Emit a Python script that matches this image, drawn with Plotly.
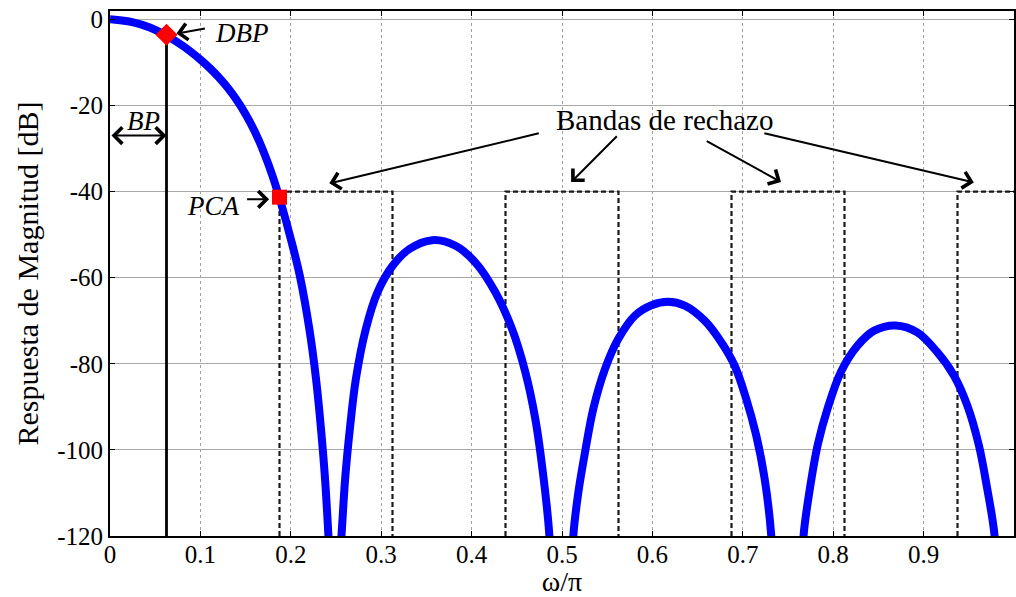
import plotly.graph_objects as go

# Magnitude response (omega/pi, dB); None separates segments that dip below -120 dB
w_resp = [0.0, 0.0257, 0.0441, 0.0617, 0.0808, 0.10, 0.11, 0.12, 0.13, 0.14, 0.15, 0.16, 0.17,
          0.18, 0.19, 0.20, 0.21, 0.2205, 0.2279, 0.2334, 0.2378, 0.2415, 0.2435, None,
          0.2535, 0.2562, 0.2602, 0.2654, 0.2720, 0.2830, 0.2959, 0.3124, 0.3308, 0.3565, 0.3822,
          0.4043, 0.4263, 0.4447, 0.4594, 0.4704, 0.4796, 0.4859, 0.4875, None,
          0.5110, 0.5127, 0.5182, 0.5256, 0.5347, 0.5476, 0.5623, 0.5807, 0.5990, 0.6174, 0.6358,
          0.6578, 0.6762, 0.6909, 0.7037, 0.7148, 0.7240, 0.7313, 0.7330, None,
          0.7660, 0.7674, 0.7737, 0.7828, 0.7938, 0.8085, 0.8269, 0.8453, 0.8691, 0.8930, 0.9151,
          0.9335, 0.9482, 0.9611, 0.9702, 0.9783, 0.9800]
mag_resp = [0.0, -0.7, -1.9, -3.7, -6.2, -9.35, -11.25, -13.4, -15.85, -18.7, -22.05, -26.0, -30.8,
            -36.5, -43.3, -51.0, -59.6, -71.9, -83.5, -95.1, -106.5, -119.5, -128.0, None,
            -128.0, -119.5, -106.5, -95.0, -83.5, -71.9, -63.4, -57.3, -53.4, -51.3, -52.6,
            -56.5, -63.4, -71.9, -81.9, -92.7, -106.5, -119.5, -128.0, None,
            -128.0, -119.5, -109.7, -100.4, -90.4, -81.2, -74.2, -68.8, -66.4, -65.6, -66.5,
            -70.0, -75.0, -80.4, -88.1, -96.6, -106.5, -119.5, -128.0, None,
            -128.0, -119.5, -109.7, -98.9, -90.4, -81.9, -75.8, -72.3, -71.1, -72.7, -77.3,
            -82.7, -89.6, -98.9, -108.8, -119.5, -128.0]

# Stopbands (rejection bands): edges and attenuation level
band_lo = [0.1875, 0.4375, 0.6875, 0.9375]
band_hi = [0.3125, 0.5625, 0.8125, 1.0625]
band_level = -40

# Key points
dbp_w, dbp_mag = 0.0625, -3.6
pca_w, pca_mag = 0.1875, -41.3

x_ticks = [0, 0.1, 0.2, 0.3, 0.4, 0.5, 0.6, 0.7, 0.8, 0.9, 1]
x_ticklabels = ["0", "0.1", "0.2", "0.3", "0.4", "0.5", "0.6", "0.7", "0.8", "0.9", "1"]
y_ticks = [0, -20, -40, -60, -80, -100, -120]
y_ticklabels = ["0", "-20", "-40", "-60", "-80", "-100", "-120"]

FONT = "Liberation Serif, Times New Roman, serif"
fig = go.Figure()

# stopband dashed rectangles
for lo, hi in zip(band_lo, band_hi):
    fig.add_trace(go.Scatter(x=[lo, lo, hi, hi], y=[-120, band_level, band_level, -120],
                             mode="lines", line=dict(color="#1a1a1a", width=2.2, dash="5px,3px"),
                             hoverinfo="skip", showlegend=False))

# passband edge line
fig.add_trace(go.Scatter(x=[dbp_w, dbp_w], y=[dbp_mag, -120], mode="lines",
                         line=dict(color="black", width=2.8), showlegend=False))

# response
fig.add_trace(go.Scatter(x=w_resp, y=mag_resp, mode="lines", connectgaps=False,
                         line=dict(color="#0000FF", width=8, shape="spline", smoothing=1.0),
                         showlegend=False))

# markers
fig.add_trace(go.Scatter(x=[dbp_w], y=[dbp_mag], mode="markers",
                         marker=dict(symbol="diamond", size=17, color="#FF0000"), showlegend=False))
fig.add_trace(go.Scatter(x=[pca_w], y=[pca_mag], mode="markers",
                         marker=dict(symbol="square", size=15, color="#FF0000"), showlegend=False))

def arrow(x, y, ax, ay, side="end"):
    fig.add_annotation(x=x, y=y, ax=ax, ay=ay, xref="x", yref="y", axref="x", ayref="y",
                       text="", showarrow=True, arrowhead=4, startarrowhead=4, arrowside=side,
                       arrowsize=1.6, startarrowsize=1.6, arrowwidth=2, arrowcolor="black")

def label(x, y, text, size, italic=False):
    fig.add_annotation(x=x, y=y, xref="x", yref="y", text=text, showarrow=False,
                       font=dict(family=FONT, size=size, color="black",
                                 style="italic" if italic else "normal"))

# DBP
arrow(0.0735, -3.3, 0.1066, -2.1)
label(0.146, -3.2, "DBP", 27, True)
# BP
arrow(0.0625, -27.0, 0.0, -27.0, side="end+start")
label(0.0375, -23.7, "BP", 27, True)
# PCA
arrow(0.176, -41.8, 0.150, -41.8)
label(0.114, -43.3, "PCA", 27, True)
# Bandas de rechazo
label(0.613, -23.3, "Bandas de rechazo", 29)
arrow(0.2426, -38.1, 0.476, -26.4)
arrow(0.5101, -37.8, 0.5623, -26.8)
arrow(0.7423, -37.8, 0.6585, -28.1)
arrow(0.9556, -37.9, 0.7222, -26.4)

fig.update_layout(
    width=1016, height=597,
    margin=dict(l=110, r=0, t=11, b=61),
    paper_bgcolor="white", plot_bgcolor="white",
    font=dict(family=FONT, size=26, color="black"),
    xaxis=dict(range=[0, 1], tickvals=x_ticks, ticktext=x_ticklabels,
               showgrid=True, gridcolor="#A0A0A0", griddash="dot", gridwidth=1,
               showline=True, linecolor="black", linewidth=2, mirror="ticks",
               ticks="inside", ticklen=5, tickcolor="black", zeroline=False,
               tickfont=dict(family=FONT, size=25), ticklabelstandoff=-5,
               title=dict(text="ω/π", font=dict(family=FONT, size=28), standoff=0)),
    yaxis=dict(range=[-120, 1.93], tickvals=y_ticks, ticktext=y_ticklabels,
               showgrid=True, gridcolor="#A8A8A8", gridwidth=1,
               showline=True, linecolor="black", linewidth=2, mirror="ticks",
               ticks="inside", ticklen=5, tickcolor="black", zeroline=False,
               tickfont=dict(family=FONT, size=25),
               title=dict(text="Respuesta de Magnitud [dB]", font=dict(family=FONT, size=30), standoff=10)),
)

fig.write_html("out.html")
